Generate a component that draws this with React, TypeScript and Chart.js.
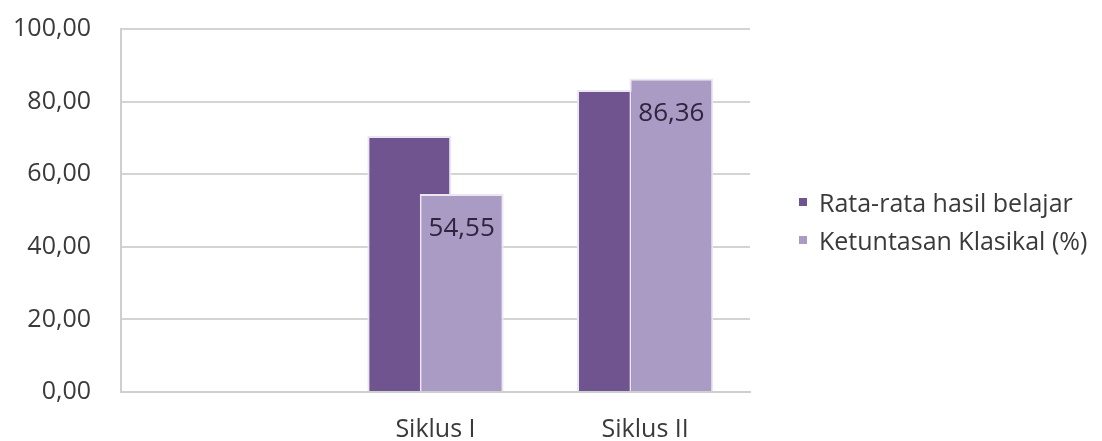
import React, { useEffect, useRef } from "react";
import { Chart, registerables } from "chart.js";

Chart.register(...registerables);

const categories = ["", "Siklus I", "Siklus II"];
const seriesNames = ["Rata-rata hasil belajar", "Ketuntasan Klasikal (%)"];
const rataRata = [null, 70.5, 83.2];
const ketuntasan = [null, 54.55, 86.36];
const yTicks = [0, 20, 40, 60, 80, 100];

const DARK = "#6f5490";
const LIGHT = "#a99bc3";
const FONT = "'Open Sans', 'DejaVu Sans', sans-serif";
// half the distance between the two bars of a category, as a fraction of the category width
const BAR_SHIFT = 0.125;

const fmt = (v: number) => v.toFixed(2).replace(".", ",");

const toPoints = (values: (number | null)[], shift: number) =>
  values
    .map((v, i) => (v == null ? null : { x: i + shift, y: v }))
    .filter((p) => p !== null);

const valueLabelPlugin = {
  id: "valueLabels",
  afterDatasetsDraw(chart: any) {
    const meta = chart.getDatasetMeta(1);
    const ctx = chart.ctx;
    ctx.save();
    ctx.font = `26px ${FONT}`;
    ctx.fillStyle = "#2e2540";
    ctx.textAlign = "center";
    ctx.textBaseline = "middle";
    meta.data.forEach((el: any, j: number) => {
      const parsed = meta._parsed[j];
      if (!parsed || parsed.y == null) return;
      ctx.fillText(fmt(parsed.y), el.x, el.y + 35);
    });
    ctx.restore();
  },
};

export default function App() {
  const ref = useRef<HTMLCanvasElement | null>(null);

  useEffect(() => {
    if (!ref.current) return;
    const chart = new Chart(ref.current, {
      type: "bar",
      data: {
        labels: categories,
        datasets: [
          {
            label: seriesNames[0],
            data: toPoints(rataRata, -BAR_SHIFT) as any,
            xAxisID: "xb",
            order: 2,
            backgroundColor: DARK,
            borderColor: "#ece5f4",
            borderWidth: 2,
            borderSkipped: "bottom",
          },
          {
            label: seriesNames[1],
            data: toPoints(ketuntasan, BAR_SHIFT) as any,
            xAxisID: "xb",
            order: 1,
            backgroundColor: LIGHT,
            borderColor: "#ece5f4",
            borderWidth: 2,
            borderSkipped: "bottom",
          },
        ],
      },
      options: {
        animation: false,
        responsive: true,
        maintainAspectRatio: false,
        layout: { padding: { top: 21, right: 344, left: 0, bottom: 0 } },
        datasets: {
          bar: { grouped: false, categoryPercentage: 1, barPercentage: 1.6 },
        },
        plugins: {
          legend: { display: false },
          tooltip: { enabled: false },
          title: { display: false },
        },
        scales: {
          xb: {
            type: "linear",
            display: false,
            offset: false,
            min: -0.5,
            max: categories.length - 0.5,
            ticks: { stepSize: 1 },
          },
          x: {
            type: "category",
            offset: true,
            grid: { display: false, drawTicks: false },
            border: { display: true, color: "#cfcfcf", width: 2 },
            ticks: {
              padding: 23,
              color: "#3a3a3a",
              font: { family: FONT, size: 25 },
              maxRotation: 0,
            },
            afterFit(scale: any) {
              scale.height = 49;
            },
          },
          y: {
            min: 0,
            max: 100,
            afterBuildTicks(scale: any) {
              scale.ticks = yTicks.map((v) => ({ value: v }));
            },
            grid: { color: "#d4d4d4", lineWidth: 2, drawTicks: false },
            border: { display: true, color: "#cfcfcf", width: 2 },
            ticks: {
              padding: 30,
              color: "#3a3a3a",
              font: { family: FONT, size: 25 },
              callback: (v: any) => fmt(Number(v)),
            },
            afterFit(scale: any) {
              scale.width = 113;
              scale.paddingTop = 0;
              scale.paddingBottom = 0;
            },
          },
        },
      },
      plugins: [valueLabelPlugin],
    });
    return () => chart.destroy();
  }, []);

  const legendItem = (name: string, color: string) => (
    <div style={{ display: "flex", alignItems: "center", height: 38 }}>
      <span
        style={{
          display: "inline-block",
          width: 8,
          height: 8,
          background: color,
          marginRight: 12,
        }}
      />
      <span style={{ whiteSpace: "nowrap" }}>{name}</span>
    </div>
  );

  return (
    <div style={{ position: "relative", width: "100%", height: 433 }}>
      <canvas ref={ref} />
      <div
        style={{
          position: "absolute",
          left: 791,
          top: 175,
          fontFamily: FONT,
          fontSize: 25,
          color: "#3a3a3a",
        }}
      >
        {legendItem(seriesNames[0], DARK)}
        {legendItem(seriesNames[1], LIGHT)}
      </div>
    </div>
  );
}
